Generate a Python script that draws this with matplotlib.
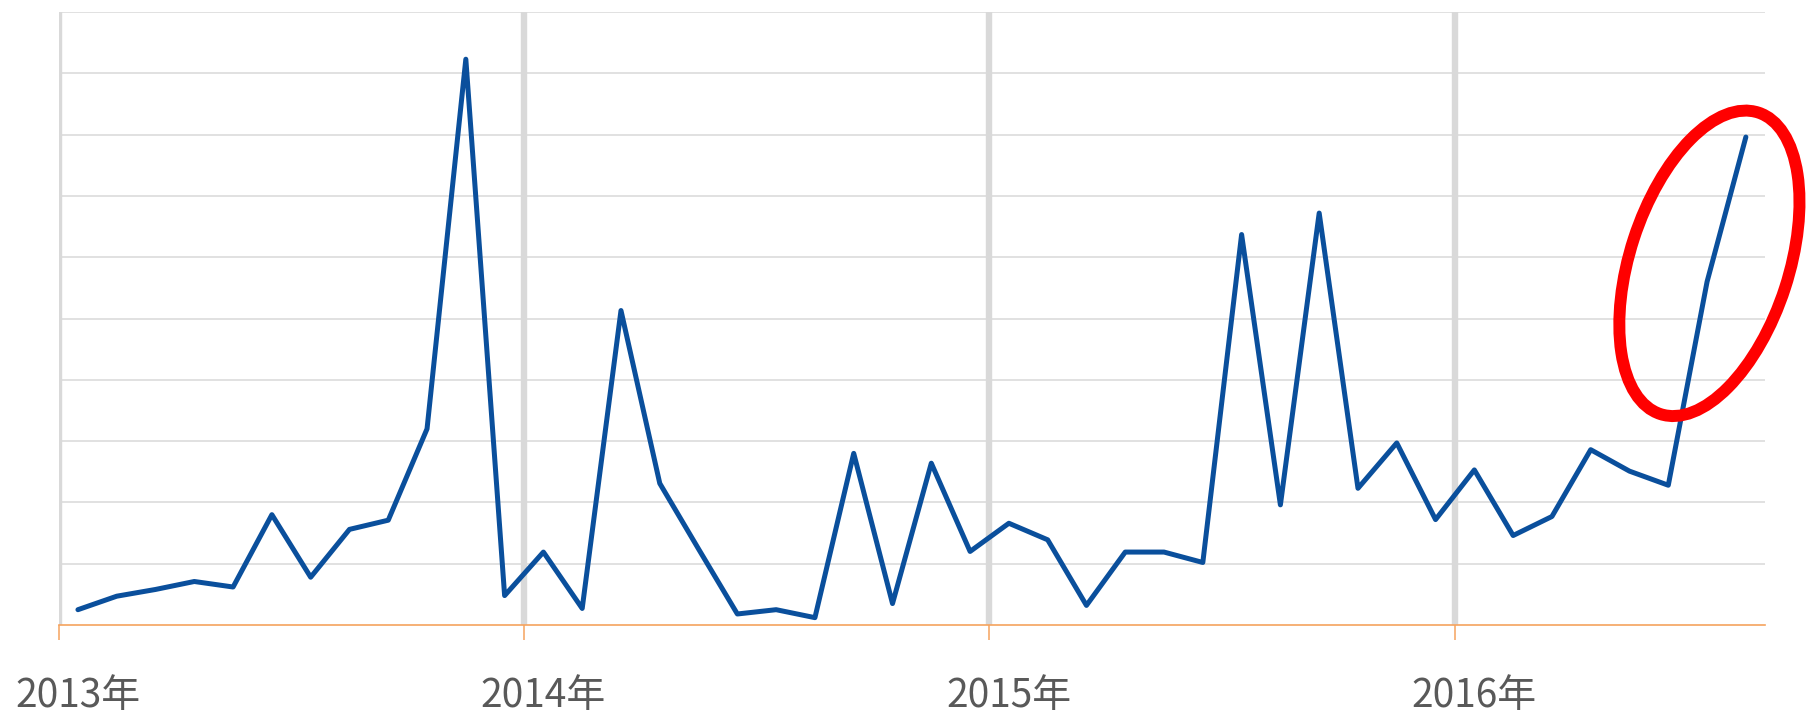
import numpy as np
import matplotlib
matplotlib.use("Agg")
import matplotlib.pyplot as plt
from matplotlib.patches import Ellipse
from matplotlib.transforms import ScaledTranslation

plt.rcParams['font.family'] = ['Noto Sans CJK SC', 'DejaVu Sans']

# Monthly values, Jan 2013 .. Aug 2016 (no units shown)
values = [0.25, 0.47, 0.58, 0.71, 0.62, 1.80, 0.78, 1.56, 1.71, 3.20, 9.23, 0.48,
          1.19, 0.27, 5.13, 2.31, 1.24, 0.18, 0.25, 0.12, 2.80, 0.35, 2.64, 1.20,
          1.66, 1.39, 0.32, 1.19, 1.19, 1.02, 6.37, 1.96, 6.72, 2.23, 2.97, 1.72,
          2.53, 1.46, 1.77, 2.86, 2.51, 2.28, 5.60, 7.96]
year_labels = ['2013年', '2014年', '2015年', '2016年']
months_per_year = 12
y_max = 10

# highlight ellipse (centre in data units, size in inches)
hl_center = (42.56, 5.9)
hl_size = (3.17, 1.59)
hl_angle = 72

n = len(values)
x = np.arange(n) + 0.5
year_starts = np.arange(len(year_labels)) * months_per_year

fig = plt.figure(figsize=(18.07, 7.10), dpi=100)
ax = fig.add_axes([0.0324, 0.1197, 0.9445, 0.8634])

grid_col = '#d9d9d9'
axis_col = '#f5a35e'

# horizontal gridlines
for v in range(1, y_max + 1):
    ax.axhline(v, color=grid_col, linewidth=1.1, zorder=1)
# year separators
for xs in year_starts:
    ax.axvline(xs, color=grid_col, linewidth=4.6, zorder=1)

ax.plot(x, values, color='#0a4f9c', linewidth=3.6, solid_joinstyle='round',
        solid_capstyle='round', zorder=3)

ax.set_xlim(0, n)
ax.set_ylim(0, y_max)

for s in ['top', 'right', 'left']:
    ax.spines[s].set_visible(False)
ax.spines['bottom'].set_color(axis_col)
ax.spines['bottom'].set_linewidth(1.2)
ax.spines['bottom'].set_zorder(4)

ax.set_yticks([])
ax.set_xticks(year_starts)
ax.set_xticklabels([])
ax.tick_params(axis='x', direction='out', length=11, width=1.1, color=axis_col)

for xs, lab in zip(year_starts, year_labels):
    ax.annotate(lab, xy=(xs + 0.5, 0), xycoords=('data', 'axes fraction'),
                xytext=(0, -59), textcoords='offset points',
                ha='center', va='baseline', fontsize=28, color='#595959')

trans = fig.dpi_scale_trans + ScaledTranslation(hl_center[0], hl_center[1], ax.transData)
ell = Ellipse((0, 0), hl_size[0], hl_size[1], angle=hl_angle, transform=trans,
              fill=False, edgecolor='#ff0000', linewidth=8.6, clip_on=False, zorder=5)
ax.add_patch(ell)

fig.savefig('out.png', dpi=100)
